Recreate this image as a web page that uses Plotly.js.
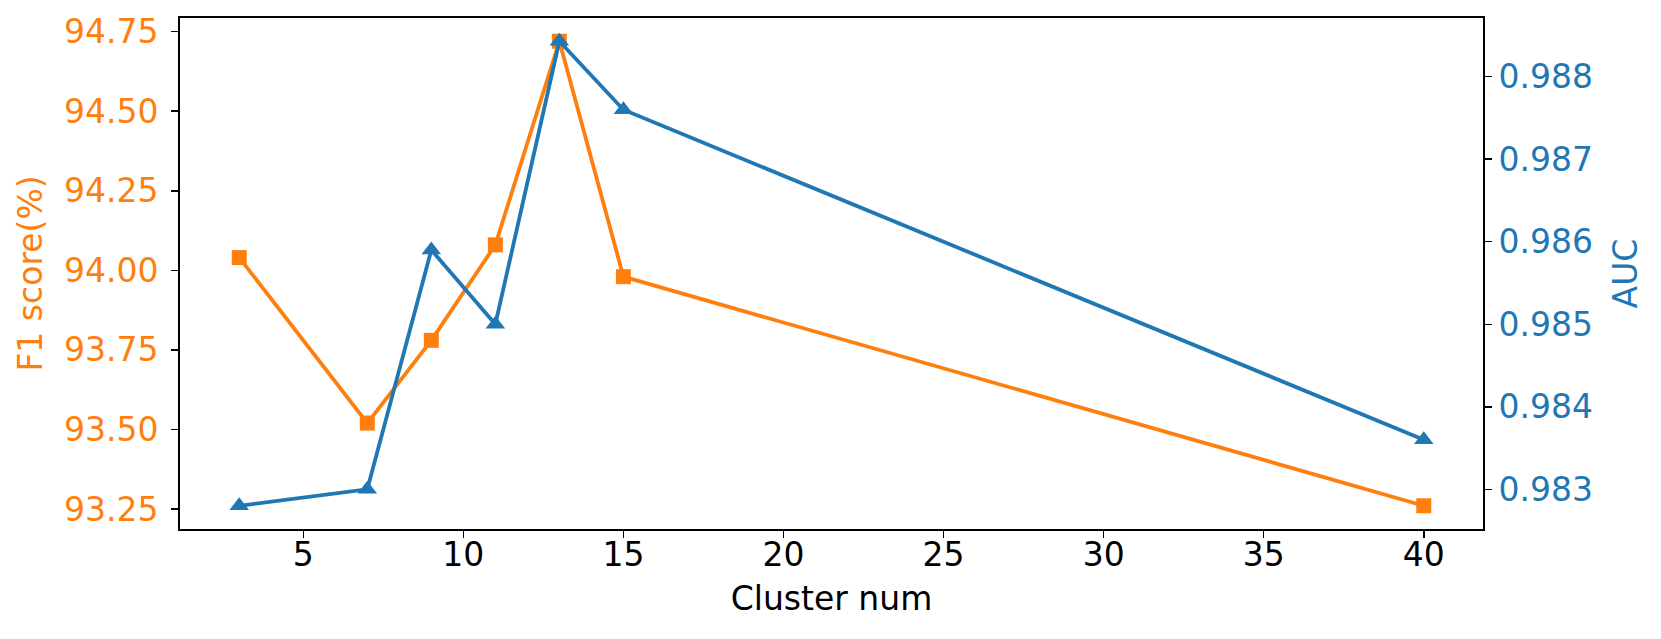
<!DOCTYPE html>
<html>
<head>
<meta charset="utf-8">
<script src="https://cdn.plot.ly/plotly-3.0.1.min.js"></script>
<style>html,body{margin:0;padding:0;background:#fff;}#chart{width:1661px;height:639px;}</style>
</head>
<body>
<div id="chart"></div>
<script>
// Data
const clusterNum = [3, 7, 9, 11, 13, 15, 40];
const f1Score = [94.04, 93.52, 93.78, 94.08, 94.72, 93.98, 93.26];
const aucScore = [0.9828, 0.9830, 0.9859, 0.9850, 0.98843, 0.9876, 0.9836];
const xTickVals = [5, 10, 15, 20, 25, 30, 35, 40];
const f1TickVals = [93.25, 93.50, 93.75, 94.00, 94.25, 94.50, 94.75];
const aucTickVals = [0.983, 0.984, 0.985, 0.986, 0.987, 0.988];

const ORANGE = '#ff7f0e';
const BLUE = '#1f77b4';
const FONT = 'DejaVu Sans, sans-serif';
const FS = 33;

function padRange(arr) {
  const mn = Math.min(...arr), mx = Math.max(...arr);
  const m = (mx - mn) * 0.05;
  return [mn - m, mx + m];
}

const traces = [
  {
    x: clusterNum, y: f1Score, type: 'scatter', mode: 'lines+markers',
    name: 'F1 score(%)', yaxis: 'y',
    line: {color: ORANGE, width: 3.8},
    marker: {symbol: 'square', size: 15, color: ORANGE}
  },
  {
    x: clusterNum, y: aucScore, type: 'scatter', mode: 'lines+markers',
    name: 'AUC', yaxis: 'y2',
    line: {color: BLUE, width: 3.8},
    marker: {symbol: 'triangle-up', size: 17, color: BLUE}
  }
];

const layout = {
  width: 1661, height: 639,
  paper_bgcolor: '#fff', plot_bgcolor: '#fff',
  showlegend: false,
  font: {family: FONT, size: FS, color: '#000'},
  margin: {l: 180, r: 178, t: 18, b: 110, pad: 0},
  xaxis: {
    range: padRange(clusterNum),
    tickvals: xTickVals,
    ticktext: xTickVals.map(String),
    showgrid: false, zeroline: false,
    showline: true, linecolor: '#000', linewidth: 2, mirror: true,
    ticks: 'outside', ticklen: 7, tickwidth: 1.5, tickcolor: '#000',
    ticklabelstandoff: -12,
    tickfont: {family: FONT, size: FS, color: '#000'},
    title: {text: 'Cluster num', font: {family: FONT, size: FS, color: '#000'}, standoff: 14}
  },
  yaxis: {
    range: padRange(f1Score),
    tickvals: f1TickVals,
    ticktext: f1TickVals.map(v => v.toFixed(2)),
    showgrid: false, zeroline: false,
    showline: true, linecolor: '#000', linewidth: 2,
    ticks: 'outside', ticklen: 7, tickwidth: 1.5, tickcolor: '#000',
    ticklabelstandoff: 6,
    tickfont: {family: FONT, size: FS, color: ORANGE},
    title: {text: 'F1 score(%)', font: {family: FONT, size: FS, color: ORANGE}, standoff: 11}
  },
  yaxis2: {
    range: padRange(aucScore),
    overlaying: 'y', side: 'right',
    tickvals: aucTickVals,
    ticktext: aucTickVals.map(v => v.toFixed(3)),
    showgrid: false, zeroline: false,
    showline: true, linecolor: '#000', linewidth: 2,
    ticks: 'outside', ticklen: 7, tickwidth: 1.5, tickcolor: '#000',
    tickfont: {family: FONT, size: FS, color: BLUE},
    title: {text: 'AUC', font: {family: FONT, size: FS, color: BLUE}, standoff: 22}
  }
};

Plotly.newPlot('chart', traces, layout, {displayModeBar: false, staticPlot: true});
</script>
</body>
</html>
